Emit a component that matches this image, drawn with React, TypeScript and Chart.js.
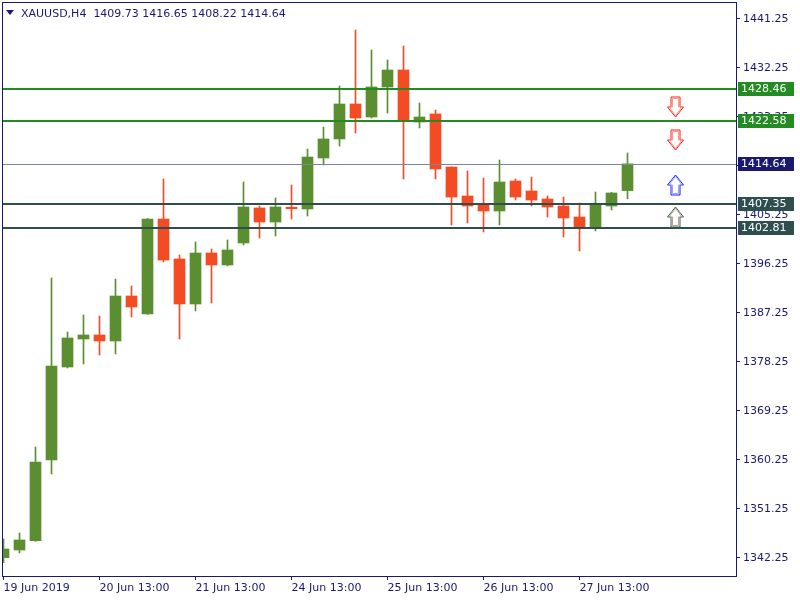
import React, { useEffect, useRef } from "react";
import { Chart, registerables } from "chart.js";

Chart.register(...registerables);

const symbolTitle = "XAUUSD,H4";

// H4 candles, index 0 = 19 Jun 2019 first visible bar
const opens = [
  1342.31, 1343.72, 1345.43, 1360.25, 1377.33, 1382.47, 1383.21, 1382.11, 1390.37, 1387.07,
  1404.51, 1397.17, 1388.9, 1398.27, 1396.07, 1400.11, 1406.54, 1403.96, 1406.68, 1406.35,
  1415.72, 1419.21, 1425.64, 1423.25, 1428.76, 1431.88, 1422.33, 1423.8, 1414.06, 1408.74,
  1407.09, 1405.98, 1411.49, 1409.66, 1408.19, 1406.9, 1404.88, 1402.86, 1406.9, 1409.73,
];
const highs = [
  1345.74, 1346.84, 1362.64, 1393.68, 1383.76, 1386.88, 1386.7, 1393.49, 1392.21, 1404.6,
  1411.86, 1397.9, 1400.29, 1399.0, 1400.66, 1411.31, 1406.9, 1408.37, 1410.76, 1417.37,
  1421.41, 1428.94, 1439.23, 1435.55, 1433.72, 1436.29, 1425.82, 1424.53, 1414.1, 1413.33,
  1412.04, 1415.35, 1411.86, 1412.23, 1408.74, 1408.55, 1407.45, 1409.47, 1409.4, 1416.65,
];
const lows = [
  1341.39, 1343.17, 1345.3, 1357.68, 1377.15, 1377.88, 1379.53, 1379.72, 1386.51, 1387.0,
  1396.62, 1382.47, 1387.62, 1389.09, 1395.88, 1399.74, 1401.02, 1401.39, 1404.5, 1405.06,
  1414.43, 1417.92, 1420.31, 1423.06, 1423.98, 1411.86, 1421.23, 1411.86, 1403.41, 1403.78,
  1402.13, 1403.41, 1408.0, 1406.9, 1404.88, 1401.21, 1398.64, 1402.31, 1406.17, 1408.22,
];
const closes = [
  1343.9, 1345.56, 1359.88, 1377.52, 1382.66, 1383.21, 1382.11, 1390.37, 1388.35, 1404.51,
  1396.98, 1388.9, 1398.27, 1396.07, 1398.82, 1406.72, 1403.96, 1406.72, 1406.4, 1415.9,
  1419.21, 1425.64, 1423.06, 1428.76, 1431.88, 1422.57, 1423.25, 1413.7, 1408.55, 1406.9,
  1405.98, 1411.31, 1408.55, 1408.0, 1406.72, 1404.7, 1402.86, 1407.09, 1409.29, 1414.64,
];

const xTickIndex = [0, 6, 12, 18, 24, 30, 36];
const xTickLabels = [
  "19 Jun 2019",
  "20 Jun 13:00",
  "21 Jun 13:00",
  "24 Jun 13:00",
  "25 Jun 13:00",
  "26 Jun 13:00",
  "27 Jun 13:00",
];
const yTickValues = [
  1342.25, 1351.25, 1360.25, 1369.25, 1378.25, 1387.25, 1396.25, 1405.25, 1414.25, 1423.25,
  1432.25, 1441.25,
];

const levelPrices = [1428.46, 1422.58, 1414.64, 1407.35, 1402.81];
const levelColors = ["#228b22", "#228b22", "#778899", "#2f4f4f", "#2f4f4f"];
const levelLabelBg = ["#228b22", "#228b22", "#191970", "#2f4f4f", "#2f4f4f"];
const levelWidths = [2, 2, 1, 2, 2];

const arrowIndex = [42, 42, 42, 42];
const arrowPrices = [1425.1, 1419.0, 1410.7, 1404.8];
const arrowDirs = ["down", "down", "up", "up"];
const arrowOuter = ["#ff1a1a", "#ff1a1a", "#1a1aff", "#3c5a5a"];
const arrowInner = ["#ff9a8a", "#ff9a8a", "#a0a0ff", "#c0a080"];

const X_MIN = -0.09375;
const X_MAX = 45.78125;
const Y_MIN = 1338.94;
const Y_MAX = 1444.37;

const NAVY = "#191970";
const GREEN = "#5b8e30";
const RED = "#f34b24";
const FONT = "DejaVu Sans";

const fmt = (v: number) => v.toFixed(2);

const overlayPlugin = {
  id: "overlay",
  afterDatasetsDraw(chart: any) {
    const { ctx, chartArea: a, scales } = chart;
    const y = scales.y;
    const x = scales.x;
    ctx.save();
    ctx.beginPath();
    ctx.rect(a.left, a.top, a.right - a.left, a.bottom - a.top);
    ctx.clip();
    levelPrices.forEach((p, i) => {
      const w = levelWidths[i];
      const py = Math.round(y.getPixelForValue(p)) + (w % 2 ? 0.5 : 0);
      ctx.strokeStyle = levelColors[i];
      ctx.lineWidth = w;
      ctx.beginPath();
      ctx.moveTo(a.left, py);
      ctx.lineTo(a.right, py);
      ctx.stroke();
    });
    arrowPrices.forEach((p, i) => {
      const cx = x.getPixelForValue(arrowIndex[i]);
      const cy = Math.round(y.getPixelForValue(p));
      const drawShape = (inset: number, color: string) => {
        const hw = 8 - inset;
        const sw = 4.5 - inset;
        const h = 10 - inset;
        const pts: [number, number][] =
          arrowDirs[i] === "down"
            ? [
                [cx - sw, cy - h],
                [cx + sw, cy - h],
                [cx + sw, cy],
                [cx + hw, cy],
                [cx, cy + h],
                [cx - hw, cy],
                [cx - sw, cy],
              ]
            : [
                [cx - sw, cy + h],
                [cx + sw, cy + h],
                [cx + sw, cy],
                [cx + hw, cy],
                [cx, cy - h],
                [cx - hw, cy],
                [cx - sw, cy],
              ];
        ctx.beginPath();
        pts.forEach(([px, py], k) => (k ? ctx.lineTo(px, py) : ctx.moveTo(px, py)));
        ctx.closePath();
        ctx.strokeStyle = color;
        ctx.lineWidth = 1;
        ctx.stroke();
      };
      drawShape(0, arrowOuter[i]);
      drawShape(1.5, arrowInner[i]);
    });
    ctx.restore();
  },
  afterDraw(chart: any) {
    const { ctx, chartArea: a, scales } = chart;
    const y = scales.y;
    ctx.save();
    ctx.strokeStyle = NAVY;
    ctx.lineWidth = 1;
    ctx.strokeRect(a.left + 0.5, a.top + 0.5, a.right - a.left, a.bottom - a.top);
    ctx.font = `11px ${FONT}`;
    ctx.textBaseline = "middle";
    ctx.textAlign = "left";
    levelPrices.forEach((p, i) => {
      const py = y.getPixelForValue(p);
      ctx.fillStyle = levelLabelBg[i];
      ctx.fillRect(a.right + 2, Math.round(py) - 7, 56, 14);
      ctx.fillStyle = "#ffffff";
      ctx.fillText(fmt(p), a.right + 5, Math.round(py));
    });
    const last = closes.length - 1;
    ctx.fillStyle = NAVY;
    ctx.beginPath();
    ctx.moveTo(6, 10);
    ctx.lineTo(14, 10);
    ctx.lineTo(10, 15);
    ctx.closePath();
    ctx.fill();
    ctx.textBaseline = "alphabetic";
    ctx.fillText(
      `${symbolTitle}  ${fmt(opens[last])} ${fmt(highs[last])} ${fmt(lows[last])} ${fmt(closes[last])}`,
      21,
      17
    );
    ctx.restore();
  },
};

export default function App() {
  const ref = useRef<HTMLCanvasElement | null>(null);

  useEffect(() => {
    if (!ref.current) return;
    const colors = opens.map((o, i) => (closes[i] >= o ? GREEN : RED));
    const chart = new Chart(ref.current, {
      type: "bar",
      data: {
        datasets: [
          {
            label: "body",
            data: opens.map((o, i) => ({ x: i, y: [o, closes[i]] })) as any,
            backgroundColor: colors,
            borderWidth: 0,
            barThickness: 11,
            grouped: false,
            order: 1,
          } as any,
          {
            label: "wick",
            data: lows.map((l, i) => ({ x: i, y: [l, highs[i]] })) as any,
            backgroundColor: colors,
            borderWidth: 0,
            barThickness: 1,
            grouped: false,
            order: 2,
          } as any,
        ],
      },
      options: {
        animation: false,
        responsive: false,
        devicePixelRatio: 1,
        layout: { padding: { left: 2, top: 2, right: 0, bottom: 0 } },
        plugins: {
          legend: { display: false },
          tooltip: { enabled: false },
          title: { display: false },
        },
        scales: {
          x: {
            type: "linear",
            position: "bottom",
            offset: false,
            min: X_MIN,
            max: X_MAX,
            afterBuildTicks: (s: any) => {
              s.ticks = xTickIndex.map((v) => ({ value: v }));
            },
            afterFit: (s: any) => {
              s.height = 24;
              s.paddingLeft = 0;
              s.paddingRight = 0;
            },
            ticks: {
              autoSkip: false,
              maxRotation: 0,
              minRotation: 0,
              align: "start",
              padding: 2,
              color: NAVY,
              font: { family: FONT, size: 11 },
              callback: (v: any) => {
                const k = xTickIndex.indexOf(Number(v));
                return k >= 0 ? xTickLabels[k] : "";
              },
            },
            grid: {
              offset: false,
              drawOnChartArea: false,
              drawTicks: true,
              tickLength: 4,
              color: NAVY,
            },
            border: { display: false },
          },
          y: {
            type: "linear",
            position: "right",
            min: Y_MIN,
            max: Y_MAX,
            afterBuildTicks: (s: any) => {
              s.ticks = yTickValues.map((v) => ({ value: v }));
            },
            afterFit: (s: any) => {
              s.width = 64;
              s.paddingTop = 0;
              s.paddingBottom = 0;
            },
            ticks: {
              padding: 3,
              color: NAVY,
              font: { family: FONT, size: 11 },
              callback: (v: any) => fmt(Number(v)),
            },
            grid: { drawOnChartArea: false, drawTicks: true, tickLength: 4, color: NAVY },
            border: { display: false },
          },
        },
      } as any,
      plugins: [overlayPlugin],
    });
    return () => chart.destroy();
  }, []);

  return (
    <div
      style={{
        position: "fixed",
        left: 0,
        top: 0,
        width: 800,
        height: 600,
        background: "#ffffff",
      }}
    >
      <canvas ref={ref} width={800} height={600} style={{ display: "block" }} />
    </div>
  );
}
